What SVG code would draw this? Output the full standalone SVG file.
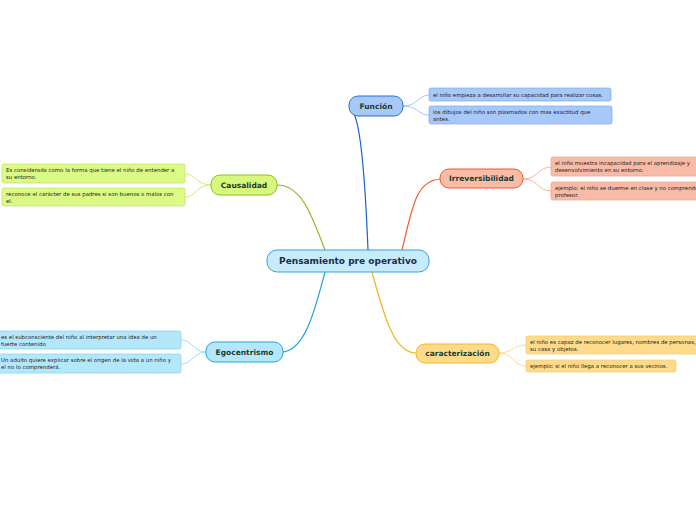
<svg xmlns="http://www.w3.org/2000/svg" width="696" height="520" viewBox="0 0 696 520">
<style>
text{font-family:"DejaVu Sans",Verdana,sans-serif}
.main{font-size:7.5px;font-weight:bold;fill:#1d3b2f;text-anchor:middle}
.sub{font-size:5.4px;fill:#222}
.c{fill:none;stroke-width:1.2}
.s{fill:none;stroke-width:0.8}
</style>
<rect width="696" height="520" fill="#fff"/>
<g id="connectors">
<path class="c" stroke="#1a5fd0" d="M368,250 C366,200 362,130 354,114"/>
<path class="c" stroke="#f05a28" d="M402,250 C412,210 415,180 441,179"/>
<path class="c" stroke="#8ab81a" d="M325,250 C310,210 300,185 277,185"/>
<path class="c" stroke="#1fa3dc" d="M325,272 C315,310 305,350 283,352"/>
<path class="c" stroke="#f5b21e" d="M372,272 C385,320 395,353 416,353"/>
<path class="s" stroke="#8fb6f2" d="M403,106 C418,106 418,95 429,95"/>
<path class="s" stroke="#8fb6f2" d="M403,106 C418,106 418,115 429,115"/>
<path class="s" stroke="#f5a58c" d="M523,179 C538,179 538,167 551,167"/>
<path class="s" stroke="#f5a58c" d="M523,179 C538,179 538,191 551,191"/>
<path class="s" stroke="#c4e66a" d="M211,185 C196,185 196,174 185,174"/>
<path class="s" stroke="#c4e66a" d="M211,185 C196,185 196,197 185,197"/>
<path class="s" stroke="#8dd3f0" d="M206,352 C193,352 193,340 181,340"/>
<path class="s" stroke="#8dd3f0" d="M206,352 C193,352 193,364 181,364"/>
<path class="s" stroke="#f8d278" d="M499,353 C513,353 513,345 526,345"/>
<path class="s" stroke="#f8d278" d="M499,353 C513,353 513,366 526,366"/>
</g>
<g id="center">
<rect x="267" y="250" width="162" height="22" rx="10" fill="#c6ecfc" stroke="#3d9fd8" stroke-width="1"/>
<text x="348" y="264" style="font-size:9px;font-weight:bold;fill:#1b2a4e;text-anchor:middle">Pensamiento pre operativo</text>
</g>
<g id="funcion">
<rect x="349" y="96" width="54" height="20" rx="9" fill="#a7c9f8" stroke="#2d6fd0" stroke-width="1"/>
<text class="main" x="376" y="108.5">Función</text>
</g>
<g id="funcion-1">
<rect x="429" y="88" width="182" height="13" rx="2" fill="#a7c8f9" stroke="#7ea9ee" stroke-width="0.7"/>
<text class="sub" x="433" y="96.5">el niño empieza a desarrollar su capacidad para realizar cosas.</text>
</g>
<g id="funcion-2">
<rect x="429" y="106" width="183" height="18" rx="2" fill="#a7c8f9" stroke="#7ea9ee" stroke-width="0.7"/>
<text class="sub" x="433" y="113.5">los dibujos del niño son plasmados con mas exactitud que</text>
<text class="sub" x="433" y="120.5">antes.</text>
</g>
<g id="irreversibilidad">
<rect x="440" y="169" width="83" height="19" rx="9" fill="#f9bca7" stroke="#f0562a" stroke-width="1"/>
<text class="main" x="481.5" y="181">Irreversibilidad</text>
</g>
<g id="irreversibilidad-1">
<rect x="551" y="157" width="150" height="19" rx="2" fill="#f8bba7" stroke="#f3a58c" stroke-width="0.7"/>
<text class="sub" x="555" y="165">el niño muestra incapacidad para el aprendizaje y</text>
<text class="sub" x="555" y="172">desenvolvimiento en su entorno.</text>
</g>
<g id="irreversibilidad-2">
<rect x="551" y="182" width="150" height="18" rx="2" fill="#f8bba7" stroke="#f3a58c" stroke-width="0.7"/>
<text class="sub" x="555" y="189.5">ejemplo: el niño se duerme en clase y no comprende al</text>
<text class="sub" x="555" y="196.5">profesor.</text>
</g>
<g id="causalidad">
<rect x="211" y="175" width="66" height="20" rx="9" fill="#d7f87c" stroke="#8cc31c" stroke-width="1"/>
<text class="main" x="244" y="187.5">Causalidad</text>
</g>
<g id="causalidad-1">
<rect x="2" y="164" width="183" height="19" rx="2" fill="#dbfa86" stroke="#bde36a" stroke-width="0.7"/>
<text class="sub" x="6" y="172">Es considerada como la forma que tiene el niño de entender a</text>
<text class="sub" x="6" y="179">su entorno.</text>
</g>
<g id="causalidad-2">
<rect x="2" y="188" width="183" height="18" rx="2" fill="#dbfa86" stroke="#bde36a" stroke-width="0.7"/>
<text class="sub" x="6" y="195.5">reconoce el carácter de sus padres si son buenos o malos con</text>
<text class="sub" x="6" y="202.5">el.</text>
</g>
<g id="egocentrismo">
<rect x="206" y="342" width="77" height="20" rx="9" fill="#b5e7fb" stroke="#1fa6dc" stroke-width="1"/>
<text class="main" x="244.5" y="354.5">Egocentrismo</text>
</g>
<g id="egocentrismo-1">
<rect x="-5" y="331" width="186" height="18" rx="2" fill="#b5e7fb" stroke="#86cff0" stroke-width="0.7"/>
<text class="sub" x="1" y="338.5">es el subconsciente del niño al interpretar una idea de un</text>
<text class="sub" x="1" y="345.5">fuerte contenido</text>
</g>
<g id="egocentrismo-2">
<rect x="-5" y="354" width="186" height="19" rx="2" fill="#b5e7fb" stroke="#86cff0" stroke-width="0.7"/>
<text class="sub" x="1" y="362">Un adulto quiere explicar sobre el origen de la vida a un niño y</text>
<text class="sub" x="1" y="369">el no lo comprenderá.</text>
</g>
<g id="caracterizacion">
<rect x="416" y="344" width="83" height="19" rx="9" fill="#fddb8b" stroke="#f6b620" stroke-width="1"/>
<text class="main" x="457.5" y="356">caracterización</text>
</g>
<g id="caracterizacion-1">
<rect x="526" y="336" width="175" height="18" rx="2" fill="#fddb8b" stroke="#f3c868" stroke-width="0.7"/>
<text class="sub" x="530" y="343.5">el niño es capaz de reconocer lugares, nombres de personas,</text>
<text class="sub" x="530" y="350.5">su casa y objetos.</text>
</g>
<g id="caracterizacion-2">
<rect x="526" y="360" width="150" height="12" rx="2" fill="#fddb8b" stroke="#f3c868" stroke-width="0.7"/>
<text class="sub" x="530" y="368">ejemplo: si el niño llega a reconocer a sus vecinos.</text>
</g>
</svg>
